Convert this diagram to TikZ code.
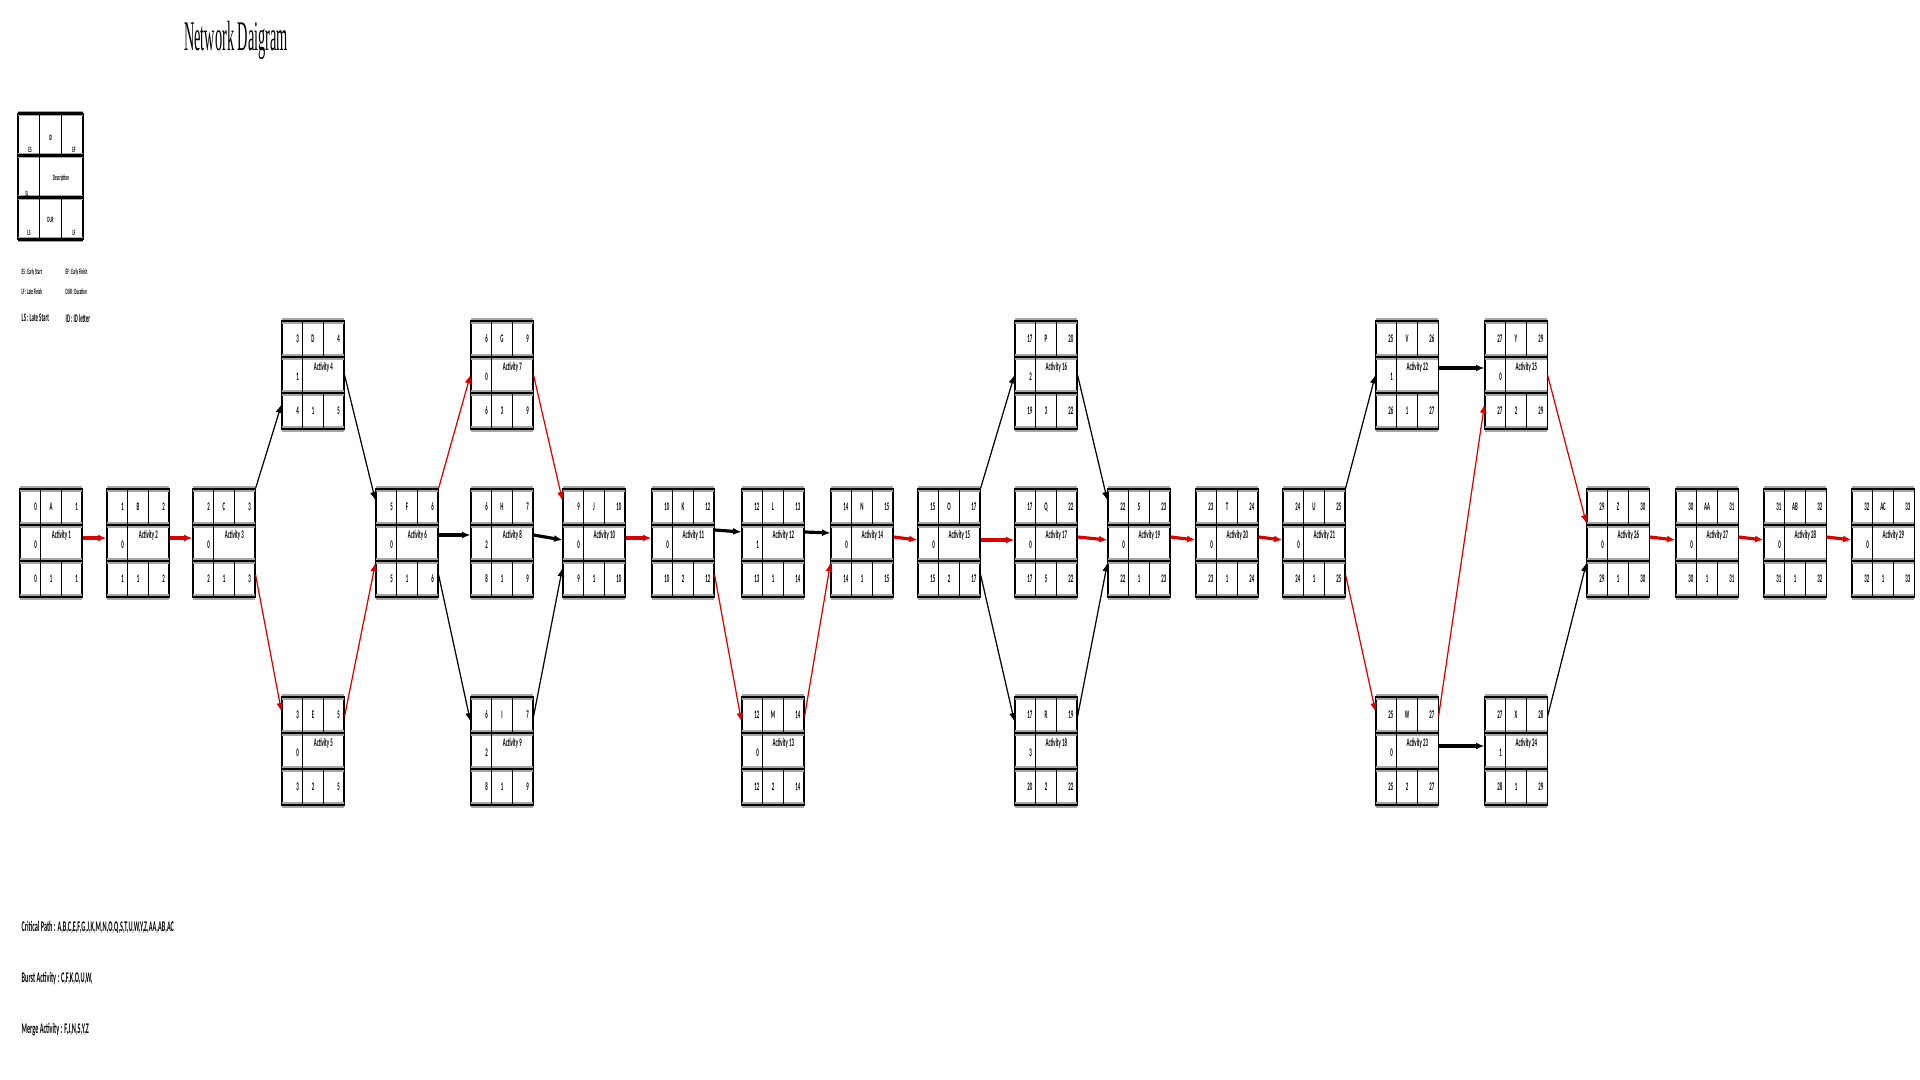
\documentclass[tikz,border=0pt]{standalone}
\usepackage{fontspec}
\newfontfamily\cellfont[FakeStretch=0.42]{Carlito}
\newfontfamily\titlefont[FakeStretch=0.34]{Liberation Serif}
\usepackage{tikz}
\usetikzlibrary{arrows.meta,positioning}

\begin{document}
\begin{tikzpicture}[
    x=0.01cm, y=-0.01cm,
    actbox/.style={
        rectangle,
        draw,
        line width=0.3pt,
        inner sep=0pt,
        minimum width=6.2mm,
        minimum height=10.8mm
    },
    hrule/.style={
        preaction={draw=black!35, line width=1.5pt},
        line width=0.6pt
    },
    vrule/.style={line width=0.35pt},
    cell/.style={
        font={\cellfont\bfseries\fontsize{3.3}{3.8}\selectfont},
        inner sep=0pt
    },
    tiny/.style={
        font={\cellfont\bfseries\fontsize{2.3}{2.7}\selectfont},
        inner sep=0pt
    },
    note/.style={
        font={\cellfont\bfseries\fontsize{4.2}{5}\selectfont},
        inner sep=0pt,
        anchor=west
    },
    arrow/.style={
        -{Latex[length=2.4pt,width=2pt]},
        line width=0.35pt
    },
    crit/.style={
        arrow,
        draw=red!85!black
    },
    flow/.style={line width=0.9pt}
]
\useasboundingbox (0,0) rectangle (1920,1080);

\node[font={\titlefont\fontsize{12}{12}\selectfont}] (title) at (236,40) {Network Daigram};

% legend
\node[actbox, minimum width=6.5mm, minimum height=12.6mm] (legend) at (50.5,176.5) {};
\foreach \ry in {113.5,155.5,197.5,239.5}
    \draw[hrule] (18,\ry) -- (83,\ry);
\draw[vrule] (39.7,113.5) -- (39.7,239.5);
\draw[vrule] (61.3,113.5) -- (61.3,155.5);
\draw[vrule] (61.3,197.5) -- (61.3,239.5);
\node[tiny] (lid) at (50.5,138) {ID};
\node[tiny] (les) at (30,150) {ES};
\node[tiny] (lef) at (74,150) {EF};
\node[tiny] (ldesc) at (61,178) {Description};
\node[tiny] (lsl) at (27,194) {SL};
\node[tiny] (ldur) at (50.5,220) {DUR};
\node[tiny] (lls) at (29,233) {LS};
\node[tiny] (llf) at (74,233) {LF};

\node[tiny, anchor=west] (es) at (21,272) {ES : Early Start};
\node[tiny, anchor=west] (ef) at (65,272) {EF : Early Finish};
\node[tiny, anchor=west] (lf) at (21,292) {LF : Late Finish};
\node[tiny, anchor=west] (dur) at (65,292) {DUR : Duration};
\node[cell, anchor=west] (ls) at (21,318) {LS : Late Start};
\node[cell, anchor=west] (idl) at (65,318) {ID : ID letter};

% activities
\foreach \nm/\cx/\cy/\es/\id/\ef/\sk/\num/\ls/\du/\lf in {
    A/51/543/0/A/1/0/1/0/1/1,
    B/138/543/1/B/2/0/2/1/1/2,
    C/224/543/2/C/3/0/3/2/1/3,
    D/313/375/3/D/4/1/4/4/1/5,
    E/313/751/3/E/5/0/5/3/2/5,
    F/407/543/5/F/6/0/6/5/1/6,
    G/502/375/6/G/9/0/7/6/3/9,
    H/502/543/6/H/7/2/8/8/1/9,
    I/502/751/6/I/7/2/9/8/1/9,
    J/594/543/9/J/10/0/10/9/1/10,
    K/683/543/10/K/12/0/11/10/2/12,
    L/773/543/12/L/13/1/12/13/1/14,
    M/773/751/12/M/14/0/13/12/2/14,
    N/862/543/14/N/15/0/14/14/1/15,
    O/949/543/15/O/17/0/15/15/2/17,
    P/1046/375/17/P/20/2/16/19/3/22,
    Q/1046/543/17/Q/22/0/17/17/5/22,
    R/1046/751/17/R/19/3/18/20/2/22,
    S/1139/543/22/S/23/0/19/22/1/23,
    T/1227/543/23/T/24/0/20/23/1/24,
    U/1314/543/24/U/25/0/21/24/1/25,
    V/1407/375/25/V/26/1/22/26/1/27,
    W/1407/751/25/W/27/0/23/25/2/27,
    X/1516/751/27/X/28/1/24/28/1/29,
    Y/1516/375/27/Y/29/0/25/27/2/29,
    Z/1618/543/29/Z/30/0/26/29/1/30,
    AA/1707/543/30/AA/31/0/27/30/1/31,
    AB/1795/543/31/AB/32/0/28/31/1/32,
    AC/1883/543/32/AC/33/0/29/32/1/33}
{
    \node[actbox] (\nm) at (\cx,\cy) {};
    \foreach \ry in {-54,-18,18,54}
        \draw[hrule] ({\cx-31},{\cy+(\ry)}) -- ({\cx+31},{\cy+(\ry)});
    \draw[vrule] ({\cx-10.33},{\cy-54}) -- ({\cx-10.33},{\cy+54});
    \draw[vrule] ({\cx+10.33},{\cy-54}) -- ({\cx+10.33},{\cy-18});
    \draw[vrule] ({\cx+10.33},{\cy+18}) -- ({\cx+10.33},{\cy+54});
    \node[cell, anchor=east] at ({\cx-13},{\cy-36}) {\es};
    \node[cell] at (\cx,{\cy-36}) {\id};
    \node[cell, anchor=east] at ({\cx+28},{\cy-36}) {\ef};
    \node[cell, anchor=east] at ({\cx-13},{\cy+2}) {\sk};
    \node[cell] at ({\cx+10.33},{\cy-8}) {Activity \num};
    \node[cell, anchor=east] at ({\cx-13},{\cy+36}) {\ls};
    \node[cell] at (\cx,{\cy+36}) {\du};
    \node[cell, anchor=east] at ({\cx+28},{\cy+36}) {\lf};
}

% connectors
\draw[crit, flow] ([yshift=0.5mm]A.east) -- ([yshift=0.5mm]B.west);
\draw[crit, flow] ([yshift=0.5mm]B.east) -- ([yshift=0.5mm]C.west);
\draw[arrow] (C.north east) -- ([yshift=2.5mm]D.south west);
\draw[crit] ([yshift=2.3mm]C.south east) -- ([yshift=-1.5mm]E.north west);
\draw[arrow] (D.east) -- ([yshift=-1.2mm]F.north west);
\draw[crit] ([yshift=-2mm]E.north east) -- ([yshift=-2mm]F.west);
\draw[crit] (F.north east) -- (G.west);
\draw[arrow, flow] ([yshift=0.8mm]F.east) -- ([yshift=0.8mm]H.west);
\draw[arrow] ([yshift=2.3mm]F.south east) -- ([yshift=-2.5mm]I.north west);
\draw[crit] (G.east) -- ([yshift=-1.2mm]J.north west);
\draw[arrow, flow] ([yshift=0.8mm]H.east) -- ([yshift=0.3mm]J.west);
\draw[arrow] ([yshift=-2mm]I.north east) -- ([yshift=-2.5mm]J.west);
\draw[crit, flow] ([yshift=0.5mm]J.east) -- ([yshift=0.5mm]K.west);
\draw[arrow, flow] ([yshift=1.3mm]K.east) -- ([yshift=1.1mm]L.west);
\draw[crit] ([yshift=2.3mm]K.south east) -- ([yshift=-2.5mm]M.north west);
\draw[arrow, flow] ([yshift=1.1mm]L.east) -- ([yshift=1mm]N.west);
\draw[crit] ([yshift=-2mm]M.north east) -- ([yshift=-2mm]N.west);
\draw[crit, flow] ([yshift=0.6mm]N.east) -- ([yshift=0.3mm]O.west);
\draw[arrow] (O.north east) -- (P.west);
\draw[crit, flow] ([yshift=0.3mm]O.east) -- ([yshift=0.3mm]Q.west);
\draw[arrow] ([yshift=2.3mm]O.south east) -- ([yshift=-2.5mm]R.north west);
\draw[arrow] (P.east) -- ([yshift=-1.2mm]S.north west);
\draw[crit, flow] ([yshift=0.6mm]Q.east) -- ([yshift=0.3mm]S.west);
\draw[arrow] ([yshift=-2mm]R.north east) -- ([yshift=-2mm]S.west);
\draw[crit, flow] ([yshift=0.6mm]S.east) -- ([yshift=0.3mm]T.west);
\draw[crit, flow] ([yshift=0.6mm]T.east) -- ([yshift=0.3mm]U.west);
\draw[arrow] (U.north east) -- (V.west);
\draw[crit] ([yshift=2.3mm]U.south east) -- ([yshift=-1.5mm]W.north west);
\draw[arrow, flow] ([yshift=0.7mm]V.east) -- ([yshift=0.7mm]Y.west);
\draw[arrow, flow] ([yshift=0.5mm]W.east) -- ([yshift=0.5mm]X.west);
\draw[crit] ([yshift=-2mm]W.north east) -- ([yshift=2.5mm]Y.south west);
\draw[crit] (Y.east) -- ([yshift=-3.5mm]Z.north west);
\draw[arrow] ([yshift=-2mm]X.north east) -- ([yshift=-2mm]Z.west);
\draw[crit, flow] ([yshift=0.6mm]Z.east) -- ([yshift=0.3mm]AA.west);
\draw[crit, flow] ([yshift=0.6mm]AA.east) -- ([yshift=0.3mm]AB.west);
\draw[crit, flow] ([yshift=0.6mm]AB.east) -- ([yshift=0.3mm]AC.west);

% summary
\node[note] (critical) at (21,927) {Critical Path : A,B,C,E,F,G,J,K,M,N,O,Q,S,T,U,W,Y,Z,AA,AB,AC};
\node[note] (burst) at (21,978) {Burst Activity : C,F,K,O,U,W,};
\node[note] (merge) at (21,1030) {Merge Activity : F,J,N,S,Y,Z};

\end{tikzpicture}
\end{document}
